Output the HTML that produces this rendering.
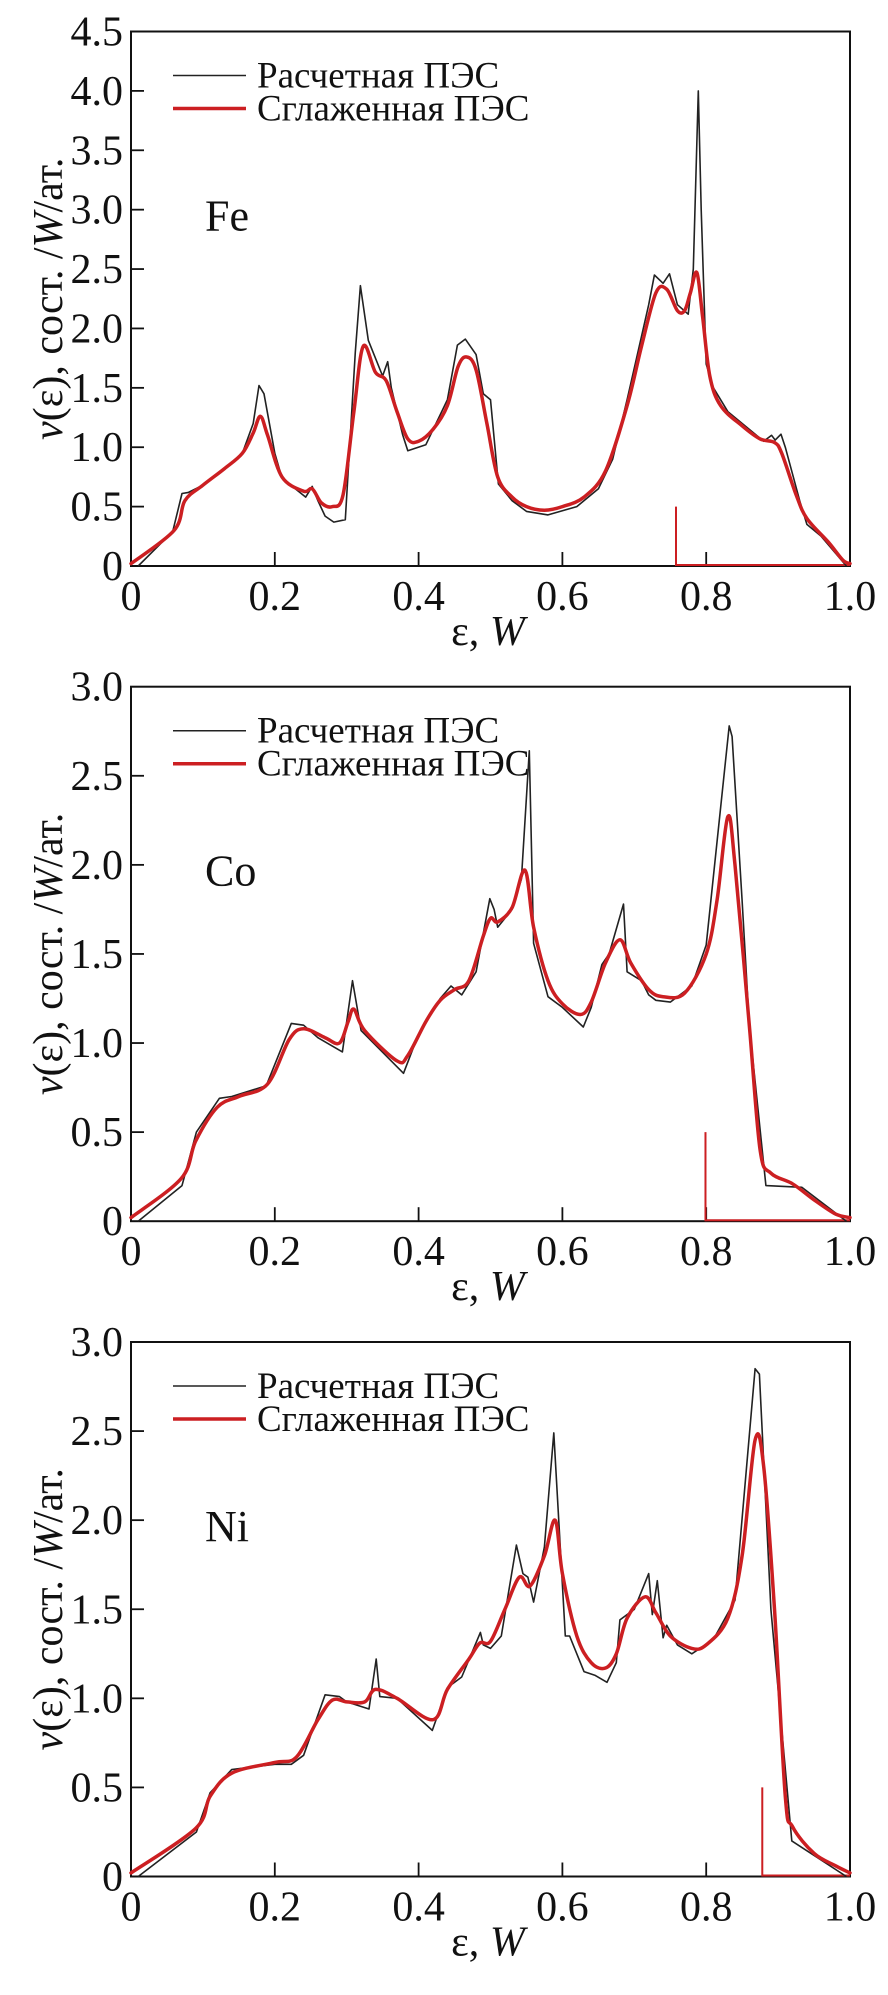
<!DOCTYPE html>
<html><head><meta charset="utf-8"><style>
html,body{margin:0;padding:0;background:#fff;}
svg{display:block;}
text{font-family:"Liberation Serif","DejaVu Serif",serif;fill:#111;}
</style></head><body>
<svg id="chart" width="888" height="1995" viewBox="0 0 888 1995" xmlns="http://www.w3.org/2000/svg"></svg>
<script>
const panelNames = ["Fe","Co","Ni"];
const yMaxes = [4.5, 3.0, 3.0];
const fermiLevels = [0.758, 0.799, 0.878];
const xTickLabels = ["0","0.2","0.4","0.6","0.8","1.0"];
const xTickValues = [0,0.2,0.4,0.6,0.8,1.0];
const yTickLabelsFe = ["0","0.5","1.0","1.5","2.0","2.5","3.0","3.5","4.0","4.5"];
const yTickLabelsCoNi = ["0","0.5","1.0","1.5","2.0","2.5","3.0"];

const feRawX = [0.01,0.058,0.071,0.08,0.1,0.13,0.155,0.17,0.178,0.185,0.2,0.21,0.243,0.252,0.26,0.27,0.282,0.298,0.312,0.319,0.33,0.35,0.357,0.362,0.378,0.385,0.41,0.44,0.454,0.465,0.48,0.49,0.5,0.511,0.53,0.55,0.58,0.62,0.65,0.67,0.69,0.72,0.728,0.74,0.749,0.76,0.775,0.782,0.789,0.793,0.8,0.81,0.83,0.86,0.88,0.891,0.896,0.904,0.91,0.93,0.94,0.96,0.995];
const feRawY = [0,0.29,0.61,0.62,0.68,0.82,0.95,1.2,1.52,1.45,0.95,0.74,0.58,0.67,0.55,0.42,0.37,0.39,1.8,2.36,1.9,1.6,1.72,1.5,1.1,0.97,1.02,1.4,1.86,1.91,1.78,1.45,1.4,0.69,0.55,0.46,0.43,0.5,0.65,0.9,1.4,2.2,2.45,2.38,2.46,2.2,2.12,2.5,4.0,3.0,1.7,1.5,1.3,1.15,1.05,1.1,1.06,1.11,1.0,0.55,0.35,0.25,0];
const feSmoothX = [0,0.06,0.075,0.1,0.13,0.155,0.17,0.18,0.19,0.21,0.24,0.252,0.265,0.28,0.295,0.31,0.323,0.34,0.355,0.37,0.385,0.4,0.42,0.44,0.455,0.467,0.48,0.495,0.51,0.53,0.55,0.575,0.6,0.63,0.66,0.69,0.71,0.73,0.745,0.76,0.77,0.778,0.787,0.795,0.805,0.82,0.85,0.875,0.895,0.905,0.925,0.94,0.97,0.99,1.0];
const feSmoothY = [0.02,0.3,0.55,0.68,0.82,0.95,1.12,1.26,1.1,0.75,0.63,0.65,0.53,0.5,0.6,1.3,1.85,1.63,1.56,1.3,1.07,1.05,1.15,1.35,1.68,1.76,1.65,1.2,0.75,0.58,0.5,0.47,0.5,0.58,0.8,1.35,1.85,2.3,2.33,2.15,2.15,2.3,2.47,2.1,1.6,1.35,1.18,1.07,1.04,0.95,0.6,0.4,0.2,0.05,0.02];

const coRawX = [0.01,0.071,0.091,0.123,0.14,0.188,0.223,0.24,0.26,0.294,0.308,0.32,0.379,0.4,0.43,0.445,0.46,0.48,0.499,0.505,0.51,0.53,0.543,0.554,0.56,0.58,0.6,0.629,0.64,0.655,0.665,0.685,0.69,0.71,0.72,0.73,0.75,0.78,0.8,0.832,0.836,0.85,0.86,0.883,0.933,0.995];
const coRawY = [0,0.2,0.5,0.69,0.7,0.76,1.11,1.1,1.03,0.95,1.35,1.07,0.83,1.05,1.25,1.32,1.27,1.4,1.81,1.75,1.65,1.75,1.92,2.64,1.56,1.26,1.2,1.09,1.2,1.44,1.5,1.78,1.4,1.35,1.27,1.24,1.23,1.32,1.55,2.78,2.72,1.8,1.1,0.2,0.19,0];
const coSmoothX = [0,0.07,0.09,0.12,0.15,0.19,0.22,0.24,0.27,0.29,0.302,0.31,0.325,0.37,0.385,0.41,0.43,0.45,0.47,0.49,0.5,0.51,0.53,0.548,0.56,0.58,0.6,0.625,0.64,0.66,0.68,0.695,0.72,0.74,0.77,0.8,0.815,0.83,0.84,0.86,0.875,0.89,0.92,0.95,0.98,1.0];
const coSmoothY = [0.02,0.24,0.45,0.64,0.7,0.77,1.02,1.08,1.03,1.0,1.12,1.19,1.07,0.9,0.93,1.12,1.24,1.3,1.35,1.6,1.7,1.68,1.76,1.97,1.65,1.35,1.22,1.16,1.23,1.45,1.58,1.45,1.3,1.26,1.28,1.5,1.8,2.27,2.0,1.1,0.4,0.27,0.21,0.12,0.04,0.02];

const niRawX = [0.01,0.091,0.11,0.14,0.2,0.223,0.24,0.27,0.29,0.3,0.331,0.341,0.346,0.37,0.419,0.44,0.46,0.486,0.49,0.5,0.515,0.536,0.545,0.552,0.56,0.575,0.588,0.604,0.61,0.63,0.645,0.662,0.675,0.68,0.7,0.72,0.725,0.732,0.74,0.745,0.76,0.78,0.81,0.84,0.868,0.874,0.89,0.919,0.995];
const niRawY = [0,0.25,0.47,0.6,0.63,0.63,0.68,1.02,1.01,0.98,0.94,1.22,1.01,1.0,0.82,1.06,1.12,1.37,1.3,1.28,1.35,1.86,1.7,1.68,1.54,1.85,2.49,1.35,1.35,1.15,1.13,1.09,1.2,1.44,1.5,1.7,1.47,1.66,1.34,1.41,1.3,1.25,1.33,1.55,2.85,2.82,1.5,0.2,0];
const niSmoothX = [0,0.09,0.11,0.14,0.2,0.23,0.26,0.28,0.3,0.325,0.34,0.37,0.42,0.44,0.47,0.485,0.5,0.52,0.54,0.555,0.575,0.59,0.6,0.62,0.64,0.66,0.675,0.69,0.715,0.73,0.75,0.78,0.8,0.83,0.85,0.868,0.88,0.895,0.91,0.92,0.95,0.98,1.0];
const niSmoothY = [0.02,0.27,0.45,0.58,0.64,0.67,0.88,0.99,0.98,0.98,1.05,1.0,0.88,1.05,1.22,1.31,1.32,1.5,1.68,1.63,1.8,2.0,1.7,1.35,1.2,1.17,1.25,1.45,1.57,1.48,1.35,1.28,1.3,1.45,1.8,2.45,2.3,1.5,0.45,0.28,0.13,0.06,0.02];

const rawXs = [feRawX, coRawX, niRawX];
const rawYs = [feRawY, coRawY, niRawY];
const smoothXs = [feSmoothX, coSmoothX, niSmoothX];
const smoothYs = [feSmoothY, coSmoothY, niSmoothY];
const yTickSets = [yTickLabelsFe, yTickLabelsCoNi, yTickLabelsCoNi];

const NS = "http://www.w3.org/2000/svg";
const svg = document.getElementById("chart");
const L = 131, W = 719, H = 534.5;
const tops = [31.5, 686.7, 1342];
const RED = "#cc1f22";
const FF = '"Liberation Serif", "DejaVu Serif", serif';

function mk(tag, attrs, parent) {
  const e = document.createElementNS(NS, tag);
  for (const k in attrs) e.setAttribute(k, attrs[k]);
  if (tag === "text") e.setAttribute("font-family", FF);
  parent.appendChild(e);
  return e;
}

function smoothPath(pts) {
  let d = "M" + pts[0][0].toFixed(1) + "," + pts[0][1].toFixed(1);
  for (let i = 0; i < pts.length - 1; i++) {
    const p0 = pts[Math.max(0, i - 1)], p1 = pts[i], p2 = pts[i + 1], p3 = pts[Math.min(pts.length - 1, i + 2)];
    const c1x = p1[0] + (p2[0] - p0[0]) / 6, c1y = p1[1] + (p2[1] - p0[1]) / 6;
    const c2x = p2[0] - (p3[0] - p1[0]) / 6, c2y = p2[1] - (p3[1] - p1[1]) / 6;
    d += " C" + c1x.toFixed(1) + "," + c1y.toFixed(1) + " " + c2x.toFixed(1) + "," + c2y.toFixed(1) + " " + p2[0].toFixed(1) + "," + p2[1].toFixed(1);
  }
  return d;
}

for (let p = 0; p < 3; p++) {
  const top = tops[p], bot = top + H, ymax = yMaxes[p];
  const sx = v => L + v * W;
  const sy = v => bot - v / ymax * H;
  const g = mk("g", {}, svg);
  
  

  const frame = mk("rect", {x: L, y: top, width: W, height: H, fill: "none", stroke: "#111", "stroke-width": 2}, g);
  
  

  xTickValues.forEach((v, i) => {
    if (v > 0 && v < 1) {
      const t = mk("line", {x1: sx(v), x2: sx(v), y1: bot, y2: bot - 14, stroke: "#111", "stroke-width": 1.8}, g);
      
      
    }
    const lb = mk("text", {x: sx(v), y: bot + 44, "font-size": 42, "text-anchor": "middle"}, g);
    lb.textContent = xTickLabels[i];
    
    
  });
  yTickSets[p].forEach(s => {
    const v = parseFloat(s);
    if (v > 0 && v < ymax) {
      const t = mk("line", {x1: L, x2: L + 13, y1: sy(v), y2: sy(v), stroke: "#111", "stroke-width": 1.8}, g);
      
      
    }
    const lb = mk("text", {x: L - 8, y: sy(v) + 14, "font-size": 42, "text-anchor": "end"}, g);
    lb.textContent = s;
    
    
  });

  const xt = mk("text", {x: 488, y: bot + 79, "font-size": 42, "text-anchor": "middle"}, g);
  xt.innerHTML = 'ε, <tspan font-style="italic">W</tspan>';
  
  
  const cy = top + H / 2;
  const yt = mk("text", {x: 0, y: 0, "font-size": 42, "text-anchor": "middle", transform: "translate(62," + cy + ") rotate(-90)"}, g);
  yt.innerHTML = '<tspan font-style="italic">ν</tspan>(ε), сост. /<tspan font-style="italic">W</tspan>/ат.';
  
  

  const el = mk("text", {x: 205, y: top + 199, "font-size": 44}, g);
  el.textContent = panelNames[p];
  
  

  const l1 = mk("line", {x1: 173, x2: 246, y1: top + 44, y2: top + 44, stroke: "#222", "stroke-width": 1.5}, g);
  
  
  const t1 = mk("text", {x: 257, y: top + 56, "font-size": 37}, g);
  t1.textContent = "Расчетная ПЭС";
  
  
  const l2 = mk("line", {x1: 173, x2: 246, y1: top + 77, y2: top + 77, stroke: RED, "stroke-width": 3.5}, g);
  
  
  const t2 = mk("text", {x: 257, y: top + 89, "font-size": 37}, g);
  t2.textContent = "Сглаженная ПЭС";
  
  

  const ef = fermiLevels[p];
  const fl = mk("line", {x1: sx(ef), x2: sx(ef), y1: bot, y2: sy(0.5), stroke: RED, "stroke-width": 2}, g);
  
  
  const fb = mk("line", {x1: sx(ef), x2: sx(1), y1: bot - 1, y2: bot - 1, stroke: RED, "stroke-width": 2}, g);
  
  

  const rp = rawXs[p].map((x, i) => sx(x).toFixed(1) + "," + sy(rawYs[p][i]).toFixed(1)).join(" ");
  const raw = mk("polyline", {points: rp, fill: "none", stroke: "#222", "stroke-width": 1.6, "stroke-linejoin": "round"}, g);
  
  
  const spts = smoothXs[p].map((x, i) => [sx(x), sy(smoothYs[p][i])]);
  const sm = mk("path", {d: smoothPath(spts), fill: "none", stroke: RED, "stroke-width": 3.5, "stroke-linejoin": "round", "stroke-linecap": "round"}, g);
  
  
}
</script>
</body></html>
